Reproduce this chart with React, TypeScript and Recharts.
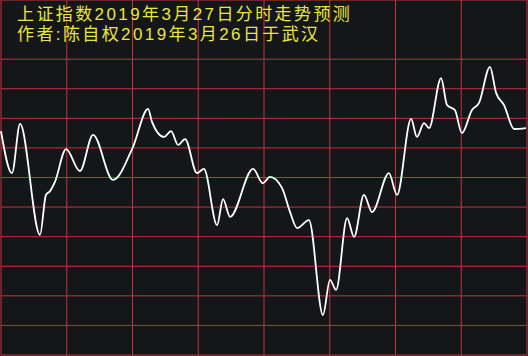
import { LineChart, Line, XAxis, YAxis, CartesianGrid } from 'recharts';

// minutes since open (0..240) and forecast index values
const minutes = [
  0, 5.0, 8.7, 17.8, 20.5, 22.4, 24.6, 29.7, 36.0, 42.0, 51.1, 60.2, 67.1, 68.9, 74.4, 77.6,
  80.8, 84.0, 89.4, 92.6, 98.6, 101.3, 104.5, 115.0, 119.5, 122.7, 128.2, 131.9, 135.1, 140.5,
  146.9, 150.1, 152.9, 157.9, 161.1, 165.6, 169.3, 177.0, 180.7, 187.1, 189.8, 193.0, 195.3,
  200.8, 203.5, 207.1, 210.3, 214.9, 218.1, 223.1, 225.9, 229.5, 234.1, 239.5,
];
const values = [
  3015.7, 3001.5, 3018.1, 2980.6, 2994.1, 2995.4, 2998.5, 3009.6, 3002.2, 3014.4, 2999.2, 3010.3,
  3023.2, 3018.8, 3013.7, 3015.7, 3011.0, 3013.0, 3001.5, 3002.9, 2983.9, 2992.7, 2986.7, 3002.9,
  2998.1, 3000.2, 2996.5, 2988.3, 2982.9, 2985.6, 2953.5, 2965.4, 2962.0, 2986.3, 2979.9, 2994.1,
  2988.3, 3001.5, 2994.1, 3019.8, 3013.7, 3018.4, 3016.7, 3033.6, 3024.5, 3022.8, 3015.0, 3022.8,
  3025.2, 3037.4, 3028.6, 3024.5, 3016.4, 3016.7,
];
const timeTicks = [0, 30, 60, 90, 120, 150, 180, 210, 240];
const valueTicks = [2940, 2950, 2960, 2970, 2980, 2990, 3000, 3010, 3020, 3030, 3040, 3050, 3060];
const titleLines = ['上证指数2019年3月27日分时走势预测', '作者:陈自权2019年3月26日于武汉'];

const data = minutes.map((t, i) => ({ t, v: values[i] }));

export default function App() {
  return (
    <div style={{ position: 'fixed', left: 0, top: 0, width: 528, height: 356, background: '#151619', overflow: 'hidden' }}>
      <LineChart width={528} height={356} data={data} margin={{ top: 0, right: 1, bottom: 1, left: 1 }}>
        <CartesianGrid stroke="#c8303a" strokeWidth={1} />
        <XAxis dataKey="t" type="number" domain={[0, 240]} ticks={timeTicks} hide />
        <YAxis type="number" domain={[2940, 3060]} ticks={valueTicks} hide />
        <Line type="monotone" dataKey="v" stroke="#ffffff" strokeWidth={1.8} dot={false} isAnimationActive={false} />
      </LineChart>
      {titleLines.map((s, i) => (
        <div
          key={s}
          style={{
            position: 'absolute',
            left: 17,
            top: 5 + i * 20,
            color: '#e8e83c',
            fontFamily: '"Liberation Sans", "Noto Sans CJK SC", sans-serif',
            fontSize: 17,
            lineHeight: '20px',
            letterSpacing: '2.4px',
            whiteSpace: 'nowrap',
          }}
        >
          {s}
        </div>
      ))}
    </div>
  );
}
